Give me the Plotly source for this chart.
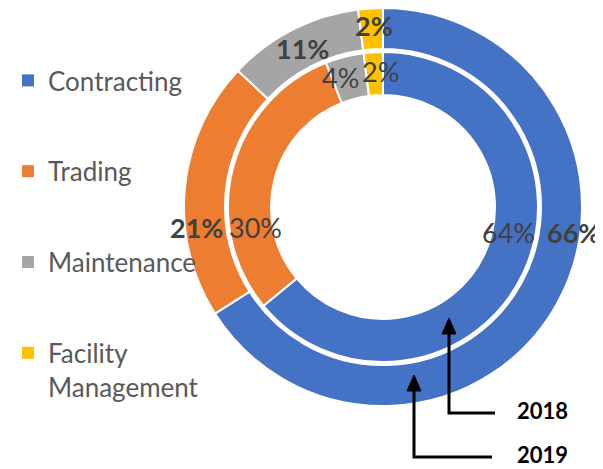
import plotly.graph_objects as go

W, H = 603, 469
OFF = 8  # page body margin
FW, FH = W - OFF, H - OFF

categories = ["Contracting", "Trading", "Maintenance", "Facility Management"]
legend_names = ["Contracting", "Trading", "Maintenance", "Facility<br>Management"]
values_2019 = [66, 21, 11, 2]
values_2018 = [64, 30, 4, 2]
colors = ["#4472C4", "#ED7D31", "#A5A5A5", "#FFC000"]
year_labels = ["2018", "2019"]


def px_x(x):
    return (x - OFF) / FW


def px_y(y):
    return 1 - (y - OFF) / FH


# ring geometry (pixels in the reference)
CX, CY = 383, 207
R_OUT, R_OUT_IN = 199, 158
R_IN, R_IN_IN = 155, 112


def dom(r):
    return dict(x=[max(0, px_x(CX - r)), min(1, px_x(CX + r))],
                y=[max(0, px_y(CY + r)), min(1, px_y(CY - r))])


fig = go.Figure()
fig.add_trace(go.Pie(
    labels=categories, values=values_2019, sort=False, direction="clockwise",
    rotation=0, hole=R_OUT_IN / R_OUT, domain=dom(R_OUT),
    marker=dict(colors=colors, line=dict(color="white", width=2)),
    textinfo="none", showlegend=False, hoverinfo="label+percent", name="2019",
))
fig.add_trace(go.Pie(
    labels=categories, values=values_2018, sort=False, direction="clockwise",
    rotation=0, hole=R_IN_IN / R_IN, domain=dom(R_IN),
    marker=dict(colors=colors, line=dict(color="white", width=2)),
    textinfo="none", showlegend=False, hoverinfo="label+percent", name="2018",
))

# legend entries
for i, (nm, c) in enumerate(zip(legend_names, colors)):
    fig.add_trace(go.Scatter(
        x=[None], y=[None], mode="markers", name=nm,
        marker=dict(symbol="square", size=12, color=c),
        legendgroup=f"g{i}", showlegend=True,
    ))

# data labels (pixel positions of reference label centres)
outer_pos = [(573, 232), (196, 228), (302, 48), (374, 26)]
inner_pos = [(508, 232), (255, 228), (340, 78), (380, 72)]
annotations = []
for v, (x, y) in zip(values_2019, outer_pos):
    annotations.append(dict(x=px_x(x), y=px_y(y), xref="paper", yref="paper",
                            xanchor="center", yanchor="middle", borderpad=0,
                            text=f"<b>{v}%</b>", showarrow=False,
                            font=dict(family="Lato", size=27, color="#404040")))
for v, (x, y) in zip(values_2018, inner_pos):
    annotations.append(dict(x=px_x(x), y=px_y(y), xref="paper", yref="paper",
                            xanchor="center", yanchor="middle", borderpad=0,
                            text=f"{v}%", showarrow=False,
                            font=dict(family="Lato", size=27, color="#404040")))

# year callouts
label_pos = [(542, 410), (542, 454)]
for t, (x, y) in zip(year_labels, label_pos):
    annotations.append(dict(x=px_x(x), y=px_y(y), xref="paper", yref="paper",
                            xanchor="center", yanchor="middle", borderpad=0,
                            text=f"<b>{t}</b>", showarrow=False,
                            font=dict(family="Lato", size=22, color="black")))

shapes = []
arrows = [((449, 318), 413, 495), ((414, 375), 457, 492)]
for (tx, ty), ybot, xend in arrows:
    path = (f"M {px_x(xend)},{px_y(ybot)} L {px_x(tx)},{px_y(ybot)} "
            f"L {px_x(tx)},{px_y(ty + 12)}")
    shapes.append(dict(type="path", xref="paper", yref="paper", path=path,
                       line=dict(color="black", width=3)))
    head = (f"M {px_x(tx - 7)},{px_y(ty + 16)} L {px_x(tx + 7)},{px_y(ty + 16)} "
            f"L {px_x(tx)},{px_y(ty)} Z")
    shapes.append(dict(type="path", xref="paper", yref="paper", path=head,
                       fillcolor="black", line=dict(color="black", width=1)))

fig.update_layout(
    width=FW, height=FH, margin=dict(l=0, r=0, t=0, b=0),
    paper_bgcolor="white", plot_bgcolor="white",
    xaxis=dict(visible=False), yaxis=dict(visible=False),
    showlegend=True,
    legend=dict(x=0, y=px_y(57), xanchor="left", yanchor="top",
                font=dict(family="Lato", size=26, color="#595959"),
                tracegroupgap=54, valign="top", itemsizing="trace",
                bgcolor="rgba(0,0,0,0)"),
    annotations=annotations, shapes=shapes,
)

fig.write_html("out.html")
